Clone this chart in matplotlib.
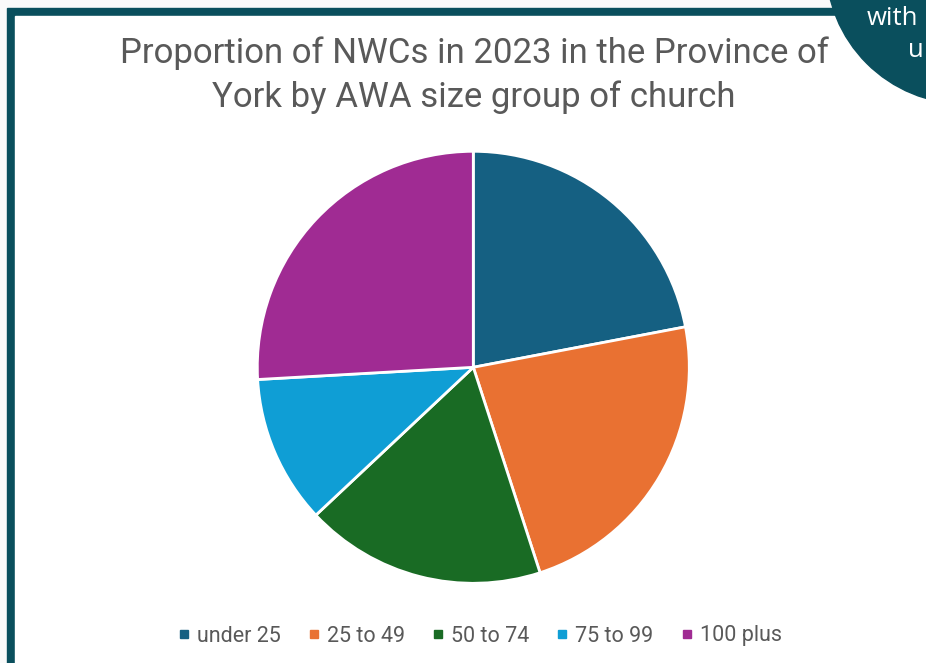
import matplotlib.pyplot as plt
from matplotlib.patches import Rectangle, Circle
from matplotlib.lines import Line2D

plt.rcParams['font.family'] = ['Roboto', 'DejaVu Sans']

# share of NWCs by average weekly attendance group
groups = ["under 25", "25 to 49", "50 to 74", "75 to 99", "100 plus"]
shares = [22.0, 23.0, 18.0, 11.1, 25.9]
colors = ["#156082", "#E97132", "#196B24", "#0F9ED5", "#A02B93"]

title = "Proportion of NWCs in 2023 in the Province of\nYork by AWA size group of church"
teal = "#0a4f5d"
grey = "#595959"

W, H = 926, 663
fig = plt.figure(figsize=(W / 100, H / 100), dpi=100)

# page backdrop, frame and corner badge, drawn in pixel units
bg = fig.add_axes([0, 0, 1, 1], zorder=-1)
bg.set_xlim(0, W)
bg.set_ylim(H, 0)
bg.axis("off")
bg.add_patch(Rectangle((0, 0), W, H, color="#fafafa"))
bg.add_patch(Rectangle((7, 8), W - 7, H - 8, color=teal))
bg.add_patch(Rectangle((15, 16), W - 15, H - 16, color="white"))
bg.add_patch(Circle((965, -35), 139, color=teal))
badge_font = dict(color="white", fontsize=18.5, fontweight="medium",
                  family=["Open Sans", "DejaVu Sans"])
bg.text(867, 25, "with", **badge_font)
bg.text(908, 57, "u", **badge_font)

fig.text(474 / W, 1 - 36 / H, title, ha="center", va="top", color=grey,
         fontsize=25, linespacing=1.4)

cx, cy, r = 473.3, 367.3, 216
ax = fig.add_axes([(cx - r) / W, (H - cy - r) / H, 2 * r / W, 2 * r / H])
ax.pie(shares, colors=colors, startangle=90, counterclock=False,
       wedgeprops=dict(edgecolor="white", linewidth=2))
ax.set_xlim(-1, 1)
ax.set_ylim(-1, 1)
ax.set_aspect("auto")

handles = [Line2D([], [], marker="s", linestyle="none", markersize=6,
                  markerfacecolor=c, markeredgecolor=c) for c in colors]
fig.legend(handles, groups, loc="center", bbox_to_anchor=(480 / W, 1 - 636 / H),
           ncol=5, frameon=False, fontsize=15.5, labelcolor=grey,
           handlelength=0.5, handletextpad=0.35, columnspacing=1.3)

fig.savefig("out.png", dpi=100)
